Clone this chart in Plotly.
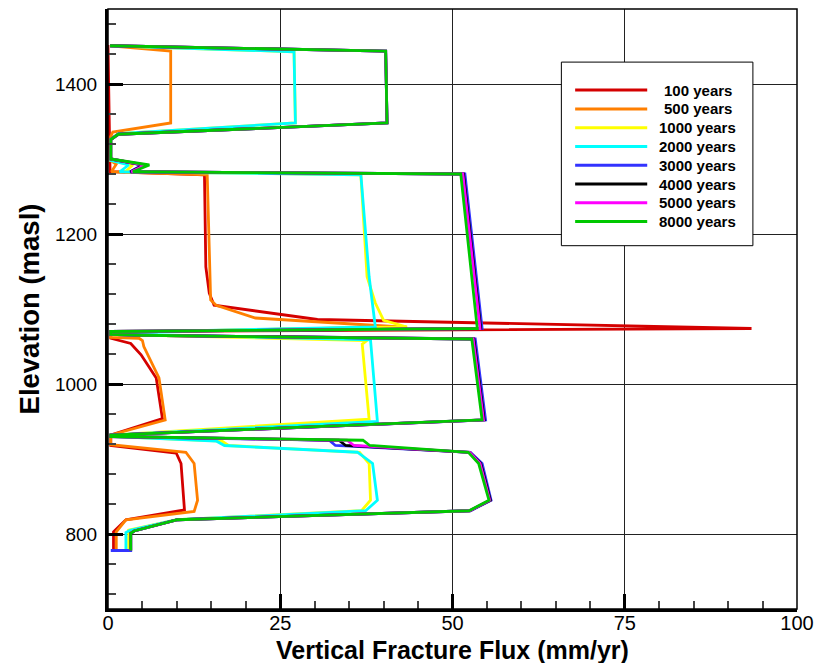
import plotly.graph_objects as go

# Vertical fracture flux profiles (mm/yr) against elevation (masl) at selected times
ELEV_100 = [1452, 1283, 1279, 1156, 1121, 1105, 1086, 1074, 1070, 1061, 1054, 1039, 1008, 954,
            932, 918, 908, 894, 832, 819, 803, 778]
FLUX_100 = [0.0, 0.3, 14.0, 14.2, 14.7, 15.4, 30.4, 93.4, 0.4, 0.4, 3.3, 4.8, 7.0, 7.9,
            0.4, 0.4, 9.9, 10.6, 11.1, 2.6, 0.8, 0.8]

ELEV_500 = [1451, 1444, 1348, 1336, 1330, 1298, 1293, 1283, 1279, 1200, 1112, 1105, 1088, 1076,
            1069, 1062, 1061, 1058, 1050, 1008, 952, 932, 919, 909, 894, 845, 830, 819, 803, 778]
FLUX_500 = [0.3, 9.1, 9.1, 0.7, 0.4, 0.4, 1.2, 0.5, 14.4, 14.6, 14.9, 15.7, 21.4, 42.5,
            0.4, 0.4, 4.5, 5.0, 5.2, 7.4, 8.3, 0.4, 0.4, 11.3, 12.5, 13.0, 12.5, 2.6, 1.2, 1.2]

ELEV_1000 = [1451, 1443, 1348, 1334, 1326, 1298, 1292, 1283, 1279, 1143, 1108, 1085, 1076,
             1069, 1066, 1058, 1053, 1000, 953, 932, 930, 924, 918, 909, 894, 845, 831, 819, 805, 778]
FLUX_1000 = [0.3, 27.0, 27.2, 1.5, 0.4, 0.4, 3.6, 2.5, 36.7, 37.6, 38.8, 40.0, 43.4,
             0.4, 0.4, 37.6, 36.9, 37.4, 37.9, 0.4, 0.4, 16.5, 17.5, 36.5, 37.9, 38.1, 36.8, 10.0, 3.0, 3.0]

ELEV_2000 = [1451, 1443, 1348, 1334, 1326, 1298, 1292, 1283, 1279, 1143, 1076, 1069, 1067,
             1059, 950, 932, 930, 924, 918, 909, 894, 845, 831, 819, 805, 802, 778]
FLUX_2000 = [0.3, 27.0, 27.2, 1.5, 0.4, 0.4, 3.0, 1.7, 36.7, 37.9, 38.8, 0.4, 0.4,
             38.1, 39.1, 0.4, 0.4, 15.7, 16.9, 36.2, 38.4, 39.1, 37.4, 10.0, 3.2, 2.6, 2.6]

ELEV_LATE = [1451, 1444, 1348, 1333, 1326, 1300, 1292, 1283, 1280, 1143, 1074, 1070, 1066, 1065,
             1060, 952, 932, 930, 925, 918, 909, 894, 845, 831, 819, 804, 801, 778]
FLUX_3000 = [0.3, 40.3, 40.5, 1.5, 0.4, 0.4, 5.0, 3.2, 51.8, 53.4, 54.3, 0.4, 0.4, 4.8,
             53.3, 54.8, 0.4, 0.4, 32.1, 33.0, 52.6, 54.3, 55.6, 52.6, 10.1, 3.8, 3.3, 3.3]
FLUX_4000 = [0.3, 40.3, 40.5, 1.5, 0.4, 0.4, 5.2, 3.3, 51.6, 53.2, 54.1, 0.4, 0.4, 4.8,
             53.1, 54.6, 0.4, 0.4, 33.5, 34.5, 52.5, 54.1, 55.5, 52.5, 10.1, 3.8, 3.3, 3.3]
FLUX_5000 = [0.3, 40.3, 40.5, 1.5, 0.4, 0.4, 5.4, 3.4, 51.5, 53.1, 54.0, 0.4, 0.4, 4.8,
             53.0, 54.5, 0.4, 0.4, 34.7, 35.7, 52.5, 54.0, 55.4, 52.5, 10.1, 3.8, 3.3, 3.3]
FLUX_8000 = [0.3, 40.3, 40.5, 1.5, 0.4, 0.4, 6.0, 3.6, 51.2, 52.8, 53.6, 0.4, 0.4, 4.8,
             52.8, 54.3, 0.4, 0.4, 37.0, 38.0, 52.3, 53.8, 55.3, 52.4, 10.1, 3.8, 3.3, 3.3]

# the 3000-year profile closes along the base of the column
ELEV_3000 = ELEV_LATE + [778]
FLUX_3000 = FLUX_3000 + [0.4]

LABELS = ["100 years", "500 years", "1000 years", "2000 years",
          "3000 years", "4000 years", "5000 years", "8000 years"]
COLORS = ["#d40000", "#ff7f00", "#ffff00", "#00ffff",
          "#3333ff", "#000000", "#ff00ff", "#00c800"]
X_TITLE = "Vertical Fracture Flux (mm/yr)"
Y_TITLE = "Elevation (masl)"

series = [
    (FLUX_100, ELEV_100), (FLUX_500, ELEV_500), (FLUX_1000, ELEV_1000), (FLUX_2000, ELEV_2000),
    (FLUX_3000, ELEV_3000), (FLUX_4000, ELEV_LATE), (FLUX_5000, ELEV_LATE), (FLUX_8000, ELEV_LATE),
]

FONT = "Liberation Sans, Arial, sans-serif"

fig = go.Figure()
for (flux, elev), name, color in zip(series, LABELS, COLORS):
    fig.add_trace(go.Scatter(x=flux, y=elev, mode="lines", name=name,
                             line=dict(color=color, width=2.8), showlegend=False))

axis_common = dict(
    showline=True, linecolor="black", linewidth=3, mirror=False,
    ticks="inside", ticklen=15, tickwidth=3, tickcolor="black",
    showgrid=True, gridcolor="#222222", gridwidth=1, zeroline=False,
    automargin=False,
)

fig.update_xaxes(range=[0, 100], dtick=25, tick0=0,
                 tickfont=dict(family=FONT, size=20, color="black"),
                 ticklabelstandoff=-6,
                 minor=dict(ticks="inside", dtick=5, ticklen=8, tickwidth=1.5,
                            tickcolor="#444444", showgrid=False),
                 **axis_common)
fig.update_yaxes(range=[700, 1500], dtick=200, tick0=0,
                 tickfont=dict(family=FONT, size=19, color="black"),
                 minor=dict(ticks="inside", dtick=40, ticklen=8, tickwidth=1.5,
                            tickcolor="#444444", showgrid=False),
                 title=dict(text=Y_TITLE, standoff=8,
                            font=dict(family=FONT, size=27.5, color="black", weight="bold")),
                 ticklabelstandoff=4,
                 **axis_common)

# thin frame on the top and right edges
shapes = [dict(type="rect", xref="paper", yref="paper", x0=0, x1=1, y0=0, y1=1,
               line=dict(color="black", width=1.5), layer="above")]

# x-axis title placed below the tick labels
annotations = [dict(xref="paper", yref="paper", x=0.5, y=-0.068, text=X_TITLE,
                    showarrow=False, xanchor="center", yanchor="middle",
                    font=dict(family=FONT, size=25, color="black", weight="bold"))]

# legend box with long line samples
box_x0, box_x1, box_y0, box_y1 = 0.658, 0.936, 0.6055, 0.9115
shapes.append(dict(type="rect", xref="paper", yref="paper", x0=box_x0, x1=box_x1,
                   y0=box_y0, y1=box_y1, line=dict(color="black", width=1),
                   fillcolor="white", layer="above"))
row_top, row_step = 0.8648, 0.0313
for i, (name, color) in enumerate(zip(LABELS, COLORS)):
    yy = row_top - i * row_step
    shapes.append(dict(type="line", xref="paper", yref="paper", x0=0.678, x1=0.7826,
                       y0=yy, y1=yy, line=dict(color=color, width=3), layer="above"))
    annotations.append(dict(xref="paper", yref="paper", x=0.8558, y=yy, text=name,
                            showarrow=False, xanchor="center", yanchor="middle",
                            font=dict(family=FONT, size=15, color="black", weight="bold")))

fig.update_layout(
    width=821, height=663,
    margin=dict(l=108, r=24, t=9, b=54),
    paper_bgcolor="white", plot_bgcolor="white",
    shapes=shapes, annotations=annotations,
    showlegend=False,
)

fig.write_html("out.html")
